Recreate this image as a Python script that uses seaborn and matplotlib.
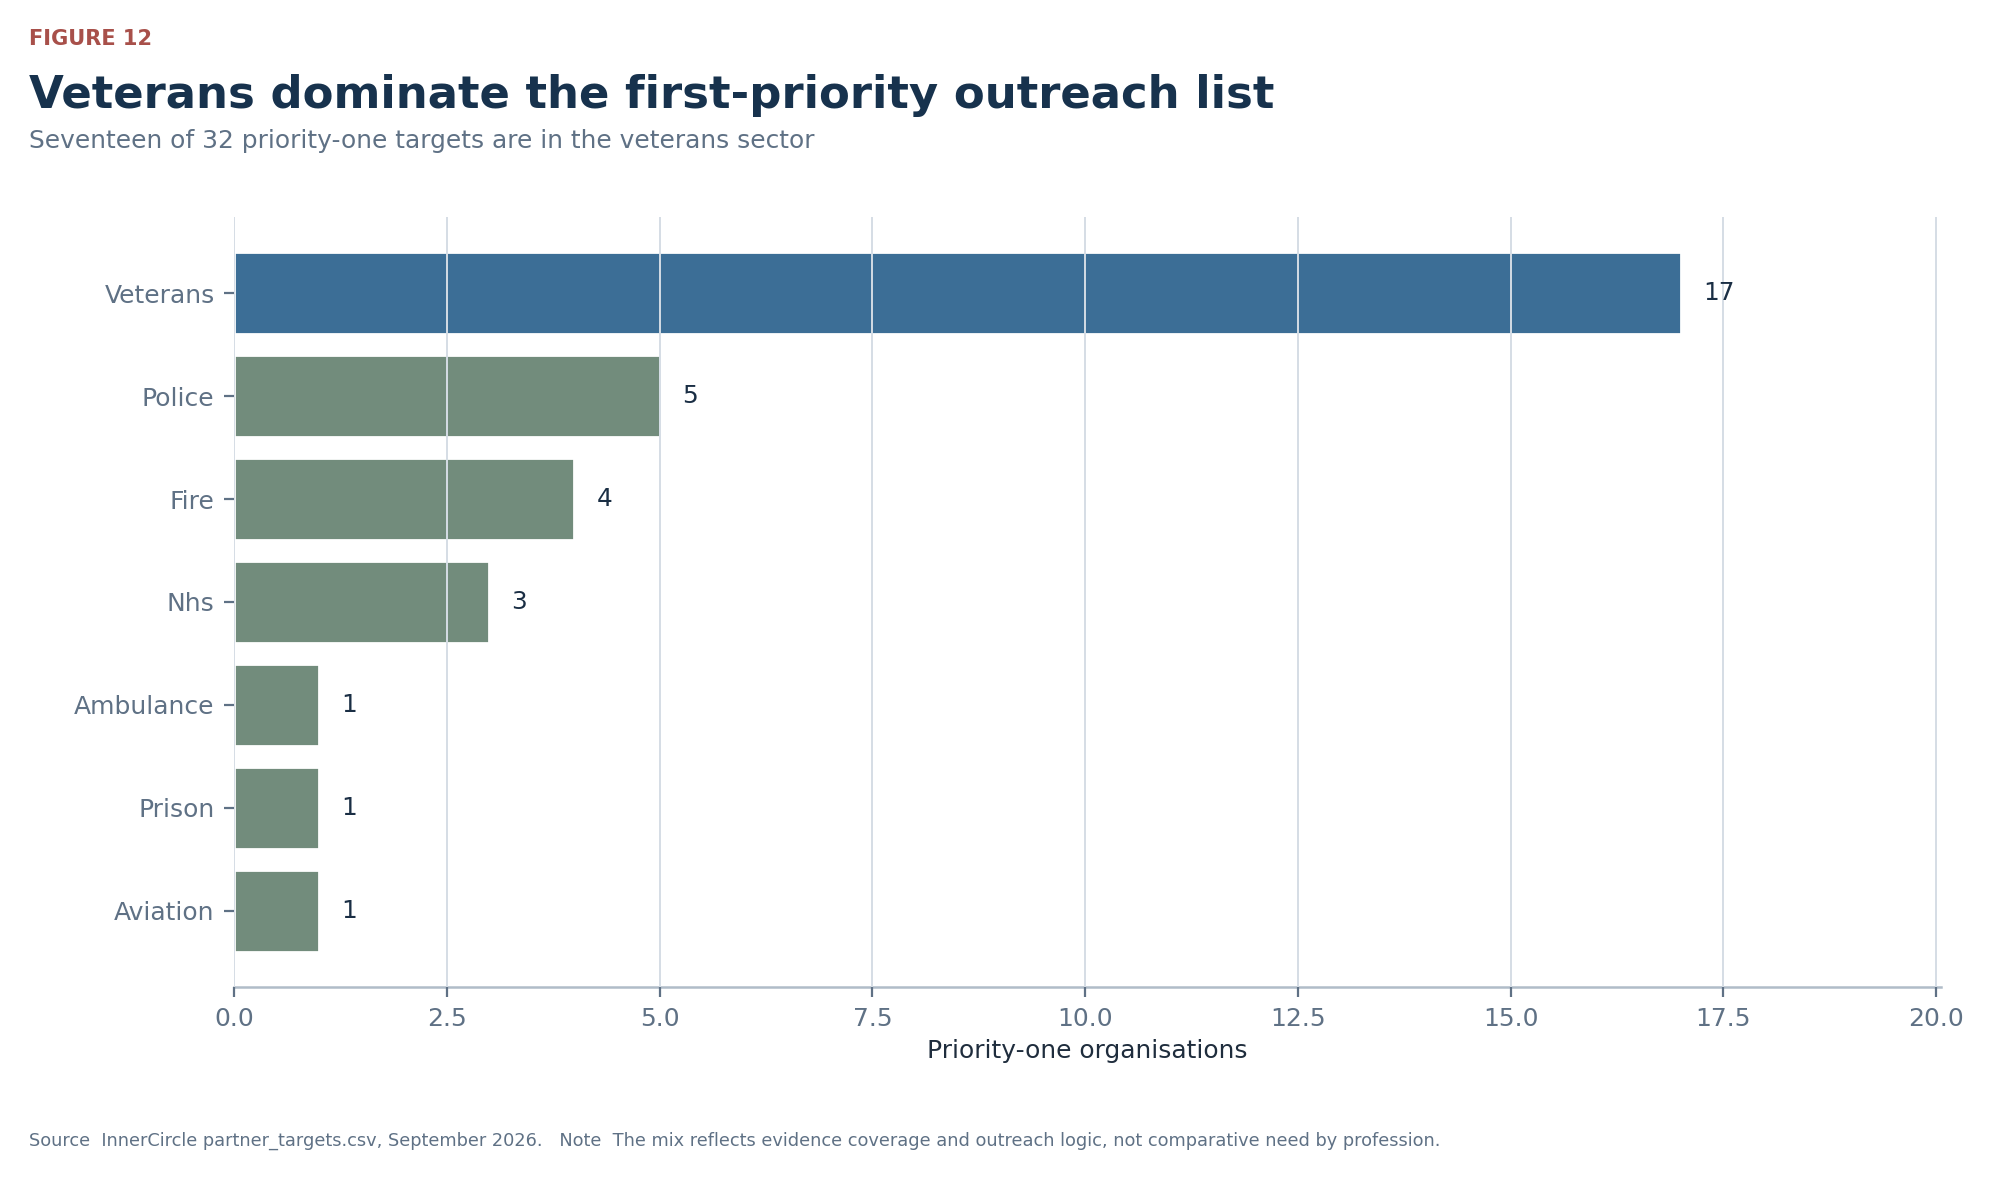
import matplotlib
matplotlib.use("Agg")
import matplotlib.pyplot as plt
import pandas as pd
import seaborn as sns

# data
sectors = ["Veterans", "Police", "Fire", "Nhs", "Ambulance", "Prison", "Aviation"]
counts = [17, 5, 4, 3, 1, 1, 1]
highlight = "Veterans"

NAVY = "#17324d"
SLATE = "#5f7185"
BLUE = "#3c6e96"
SAGE = "#728c7c"

sns.set_theme(style="white")
plt.rcParams["font.family"] = ["DejaVu Sans"]

df = pd.DataFrame({"sector": sectors, "count": counts})
palette = {s: (BLUE if s == highlight else SAGE) for s in sectors}

fig = plt.figure(figsize=(9.96, 5.895), dpi=200)
ax = fig.add_axes([0.1175, 0.1628, 0.857, 0.6532])

sns.barplot(data=df, y="sector", x="count", hue="sector", palette=palette,
            order=sectors, legend=False, width=0.8, saturation=1, ax=ax)

ax.set_xlim(0, max(counts) * 1.18)
ax.set_ylim(len(sectors) - 1 + 0.74, -0.74)

for c in ax.containers:
    ax.bar_label(c, padding=8, fontsize=8.9, color="#1a2e44")

ax.grid(axis="x", color="#d5dde5", linewidth=0.7)
ax.set_axisbelow(False)
for side in ["top", "right", "left"]:
    ax.spines[side].set_visible(False)
ax.spines["bottom"].set_color("#b0bcc8")
ax.spines["bottom"].set_linewidth(0.9)
ax.tick_params(axis="both", labelsize=9, labelcolor=SLATE, color=SLATE,
               length=3.5, width=0.8, bottom=True, left=True)
ax.set_ylabel("")
ax.set_xlabel("Priority-one organisations", fontsize=8.95, color="#1f2d3d", labelpad=3)

fig.text(0.0146, 0.9618, "FIGURE 12", fontsize=7.55, fontweight="bold", color="#a8504a", va="baseline")
fig.text(0.0146, 0.9087, "Veterans dominate the first-priority outreach list",
         fontsize=16.2, fontweight="bold", color=NAVY, va="baseline")
fig.text(0.0146, 0.8742, "Seventeen of 32 priority-one targets are in the veterans sector",
         fontsize=8.95, color=SLATE, va="baseline")
fig.text(0.0146, 0.0280,
         "Source  InnerCircle partner_targets.csv, September 2026.   Note  The mix reflects evidence coverage and outreach logic, not comparative need by profession.",
         fontsize=6.39, color=SLATE, va="baseline")

fig.savefig("out.png", dpi=200)
